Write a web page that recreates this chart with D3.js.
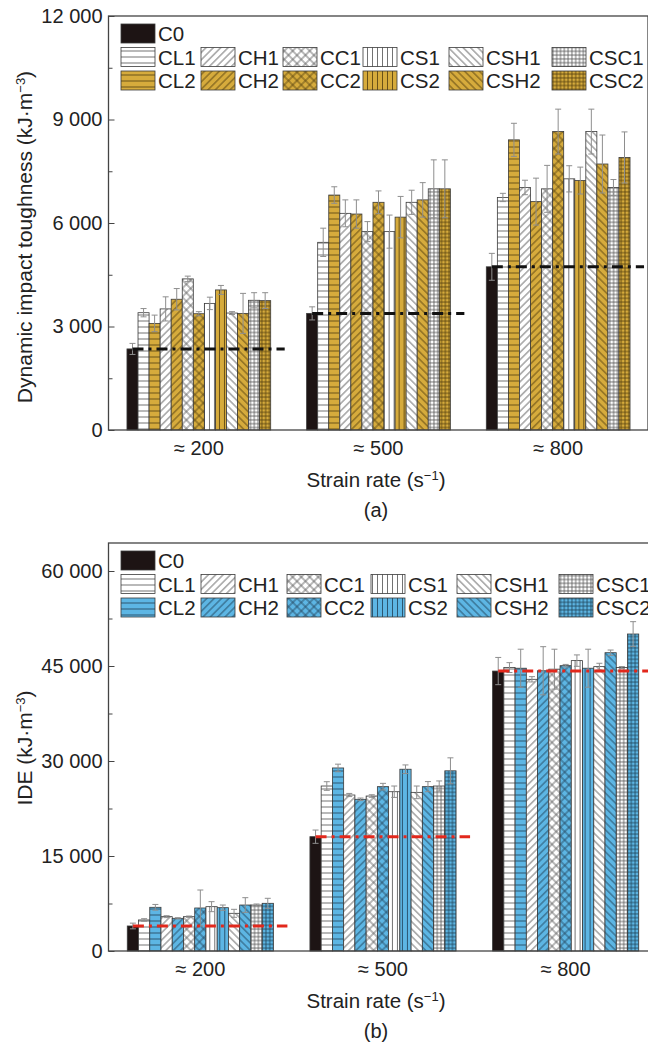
<!DOCTYPE html>
<html>
<head>
<meta charset="utf-8">
<script src="https://cdn.jsdelivr.net/npm/d3@7"></script>
<style>
  body { margin: 0; background: #fff; }
  text { font-family: "Liberation Sans", Arial, sans-serif; fill: #222; }
</style>
</head>
<body>
<svg id="chart" width="648" height="1043"></svg>
<script>
// sample names, in the order the bars are drawn inside each group
const samples = ["C0", "CL1", "CL2", "CH1", "CH2", "CC1", "CC2", "CS1", "CS2", "CSH1", "CSH2", "CSC1", "CSC2"];
const rates = ["≈ 200", "≈ 500", "≈ 800"];

// (a) dynamic impact toughness, kJ/m3
const toughness200 = [2350, 3400, 3090, 3510, 3790, 4380, 3370, 3670, 4060, 3390, 3380, 3760, 3750];
const toughness200Err = [160, 120, 240, 350, 310, 80, 60, 180, 130, 40, 580, 220, 230];
const toughness500 = [3380, 5440, 6810, 6280, 6260, 5750, 6600, 5750, 6170, 6600, 6670, 6990, 6990];
const toughness500Err = [190, 410, 240, 390, 410, 290, 330, 480, 600, 350, 500, 840, 840];
const toughness800 = [4730, 6740, 8410, 7030, 6620, 6990, 8650, 7280, 7230, 8650, 7710, 7030, 7900];
const toughness800Err = [390, 120, 480, 210, 680, 680, 650, 380, 390, 650, 840, 230, 740];

// (b) IDE, kJ/m3
const ide200 = [3950, 4900, 6900, 5420, 5160, 5420, 6790, 7000, 6840, 5950, 7260, 7260, 7530];
const ide200Err = [450, 200, 450, 150, 100, 100, 2840, 790, 420, 630, 1160, 160, 790];
const ide500 = [18050, 26050, 28900, 24630, 23950, 24470, 25950, 25150, 28700, 25050, 25950, 26050, 28450];
const ide500Err = [1050, 680, 600, 250, 200, 200, 520, 900, 680, 1000, 800, 800, 2050];
const ide800 = [44200, 44750, 44650, 42900, 44250, 44500, 45050, 45850, 44650, 44900, 47100, 44750, 50050];
const ide800Err = [2150, 780, 3000, 420, 3800, 3150, 200, 900, 3000, 530, 420, 160, 1950];

const toughnessTicks = [0, 3000, 6000, 9000, 12000];
const toughnessMinor = [1500, 4500, 7500, 10500];
const ideTicks = [0, 15000, 30000, 45000, 60000];
const ideMinor = [7500, 22500, 37500, 52500];

const svg = d3.select("#chart");
const defs = svg.append("defs");

// hatch patterns ------------------------------------------------------
function makePattern(id, fill, stroke, kind) {
  let s = 6, rot = 0, lines = [];
  if (kind === "CL") { s = 6; lines = [[0, s / 2, s, s / 2]]; }
  if (kind === "CS") { s = 5; lines = [[s / 2, 0, s / 2, s]]; }
  if (kind === "CH") { s = 5.2; rot = 45; lines = [[s / 2, 0, s / 2, s]]; }
  if (kind === "CSH") { s = 5.2; rot = -45; lines = [[s / 2, 0, s / 2, s]]; }
  if (kind === "CC") { s = 6; rot = 45; lines = [[s / 2, 0, s / 2, s], [0, s / 2, s, s / 2]]; }
  if (kind === "CSC") { s = 3.8; lines = [[s / 2, 0, s / 2, s], [0, s / 2, s, s / 2]]; }
  const p = defs.append("pattern")
    .attr("id", id)
    .attr("patternUnits", "userSpaceOnUse")
    .attr("width", s).attr("height", s);
  if (rot) p.attr("patternTransform", `rotate(${rot})`);
  p.append("rect").attr("width", s).attr("height", s).attr("fill", fill);
  lines.forEach(l => p.append("line")
    .attr("x1", l[0]).attr("y1", l[1]).attr("x2", l[2]).attr("y2", l[3])
    .attr("stroke", stroke).attr("stroke-width", 0.85));
}

const kinds = ["CL", "CH", "CC", "CS", "CSH", "CSC"];
const palettes = {
  white: ["#ffffff", "#5a5a5a"],
  gold: ["#d6ab3c", "#56410f"],
  blue: ["#5db6e4", "#22445c"]
};
Object.keys(palettes).forEach(k => kinds.forEach(kind =>
  makePattern(`p-${kind}-${k}`, palettes[k][0], palettes[k][1], kind)));

function barFill(name, colorKey) {
  if (name === "C0") return "#1d1414";
  const kind = name.replace(/[12]$/, "");
  const v = name.slice(-1) === "1" ? "white" : colorKey;
  return `url(#p-${kind}-${v})`;
}

const fmt = d => d === 0 ? "0" : d3.format(",")(d).replace(",", " ");

function drawPanel(cfg) {
  const g = svg.append("g");
  const x = d3.scaleBand().domain(rates).range([cfg.left, cfg.right])
    .paddingInner(0.2).paddingOuter(0.1);
  const xi = d3.scaleBand().domain(samples).range([0, x.bandwidth()]);
  const y = d3.scaleLinear().domain([0, cfg.yMax]).range([cfg.bottom, cfg.top]);

  const groups = rates.map((r, k) => ({ rate: r, vals: cfg.values[k], errs: cfg.errors[k] }));

  const gg = g.selectAll("g.grp").data(groups).enter().append("g")
    .attr("class", "grp")
    .attr("transform", d => `translate(${x(d.rate)},0)`);

  gg.selectAll("rect").data(d => d.vals.map((v, i) => ({ name: samples[i], v: v, e: d.errs[i] })))
    .enter().append("rect")
    .attr("x", d => xi(d.name))
    .attr("y", d => y(d.v))
    .attr("width", xi.bandwidth())
    .attr("height", d => y(0) - y(d.v))
    .attr("fill", d => barFill(d.name, cfg.color))
    .attr("stroke", "#3a3a3a")
    .attr("stroke-width", 0.8);

  // error bars
  const eb = gg.selectAll("g.err").data(d => d.vals.map((v, i) => ({ name: samples[i], v: v, e: d.errs[i] })))
    .enter().append("g").attr("class", "err")
    .attr("stroke", "#8e8e8e").attr("stroke-width", 1);
  eb.append("line")
    .attr("x1", d => xi(d.name) + xi.bandwidth() / 2).attr("x2", d => xi(d.name) + xi.bandwidth() / 2)
    .attr("y1", d => y(d.v - d.e)).attr("y2", d => y(d.v + d.e));
  [1, -1].forEach(sgn => eb.append("line")
    .attr("x1", d => xi(d.name) + xi.bandwidth() / 2 - 3).attr("x2", d => xi(d.name) + xi.bandwidth() / 2 + 3)
    .attr("y1", d => y(d.v + sgn * d.e)).attr("y2", d => y(d.v + sgn * d.e)));

  // reference line at the C0 level
  gg.append("line")
    .attr("x1", xi("C0") + xi.bandwidth() / 2)
    .attr("x2", x.bandwidth() + 14)
    .attr("y1", d => y(d.vals[0])).attr("y2", d => y(d.vals[0]))
    .attr("stroke", cfg.refColor).attr("stroke-width", 3)
    .attr("stroke-dasharray", "11,5,3,5");

  // frame
  g.append("rect")
    .attr("x", cfg.left - 0.5).attr("y", cfg.top)
    .attr("width", cfg.right - cfg.left + 0.5).attr("height", cfg.bottom - cfg.top)
    .attr("fill", "none").attr("stroke", "#444").attr("stroke-width", 1.3);

  // y axis
  const ya = g.append("g").attr("transform", `translate(${cfg.left - 0.5},0)`)
    .call(d3.axisLeft(y).tickValues(cfg.ticks).tickSize(-6).tickPadding(6).tickFormat(fmt));
  ya.select(".domain").remove();
  ya.selectAll("text").style("font-size", "20px").attr("fill", "#222");
  ya.selectAll("line").attr("stroke", "#444");
  const ym = g.append("g").attr("transform", `translate(${cfg.left - 0.5},0)`)
    .call(d3.axisLeft(y).tickValues(cfg.minor).tickSize(-4).tickFormat(""));
  ym.select(".domain").remove();
  ym.selectAll("line").attr("stroke", "#444");

  // x axis
  const xa = g.append("g").attr("transform", `translate(0,${cfg.bottom})`)
    .call(d3.axisBottom(x).tickSize(0).tickPadding(11));
  xa.select(".domain").remove();
  xa.selectAll("text").style("font-size", "20px").attr("fill", "#222");

  const xt = g.append("text")
    .attr("x", 376).attr("y", cfg.bottom + 57)
    .attr("text-anchor", "middle").style("font-size", "20.5px");
  xt.append("tspan").text("Strain rate (s");
  xt.append("tspan").attr("dy", -7).style("font-size", "13px").text("−1");
  xt.append("tspan").attr("dy", 7).text(")");

  g.append("text")
    .attr("x", 376).attr("y", cfg.bottom + 87)
    .attr("text-anchor", "middle").style("font-size", "20px")
    .text(cfg.tag);

  const yt = g.append("text")
    .attr("transform", `translate(32,${cfg.labelY}) rotate(-90)`)
    .attr("text-anchor", "middle").style("font-size", "21px");
  yt.append("tspan").text(cfg.ylabel + " (kJ·m");
  yt.append("tspan").attr("dy", -7).style("font-size", "13px").text("−3");
  yt.append("tspan").attr("dy", 7).text(")");

  // legend
  const leg = g.append("g");
  const rows = [["C0"], samples.filter(s => s.endsWith("1")), samples.filter(s => s.endsWith("2"))];
  rows.forEach((row, r) => row.forEach((name, c) => {
    const sx = cfg.legendX[c], sy = cfg.top + 8 + r * 23.5;
    leg.append("rect").attr("x", sx).attr("y", sy).attr("width", 34).attr("height", 19)
      .attr("fill", barFill(name, cfg.color)).attr("stroke", "#3a3a3a").attr("stroke-width", 0.8);
    leg.append("text").attr("x", sx + 37).attr("y", sy + 17)
      .style("font-size", "20.5px").text(name);
  }));
}

drawPanel({
  left: 109, right: 648, top: 16, bottom: 430,
  yMax: 12000, ticks: toughnessTicks, minor: toughnessMinor,
  values: [toughness200, toughness500, toughness800],
  errors: [toughness200Err, toughness500Err, toughness800Err],
  color: "gold", refColor: "#111",
  ylabel: "Dynamic impact toughness", labelY: 237, tag: "(a)",
  legendX: [121, 201, 283, 363, 449, 552]
});

drawPanel({
  left: 109, right: 657, top: 543, bottom: 951,
  yMax: 60000 * 408 / 380, ticks: ideTicks, minor: ideMinor,
  values: [ide200, ide500, ide800],
  errors: [ide200Err, ide500Err, ide800Err],
  color: "blue", refColor: "#e2281c",
  ylabel: "IDE", labelY: 748, tag: "(b)",
  legendX: [121, 201, 287, 371, 457, 559]
});
</script>
</body>
</html>
